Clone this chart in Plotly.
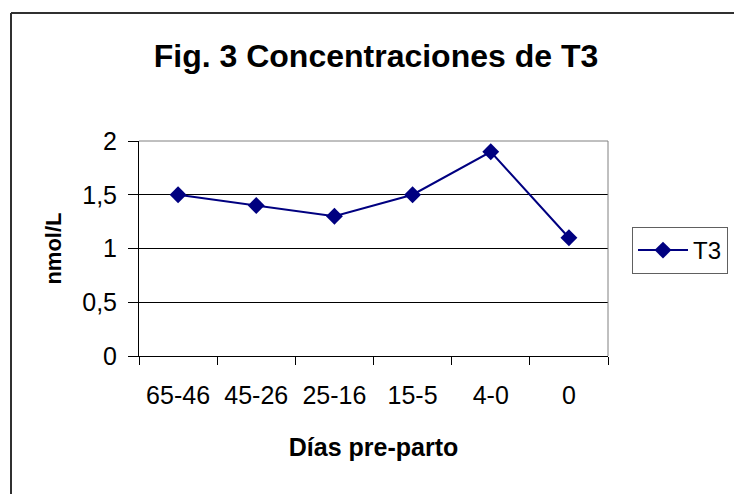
import plotly.graph_objects as go

categories = ["65-46", "45-26", "25-16", "15-5", "4-0", "0"]
t3_values = [1.5, 1.4, 1.3, 1.5, 1.9, 1.1]
y_ticks = [0, 0.5, 1, 1.5, 2]
y_tick_labels = ["0", "0,5", "1", "1,5", "2"]

OFF = 8  # default page body margin
W, H = 742 - OFF, 494 - OFF
ML, MR, MT, MB = 139 - OFF, 742 - 608, 141 - OFF, 494 - 356
PW, PH = W - ML - MR, H - MT - MB

def px_x(px):
    return (px - OFF - ML) / PW

def px_y(py):
    return (H - MB - (py - OFF)) / PH

FONT = "Liberation Sans, Arial, sans-serif"
NAVY = "#000080"

fig = go.Figure()
fig.add_trace(go.Scatter(
    x=categories, y=t3_values, name="T3", mode="lines+markers",
    line=dict(color=NAVY, width=2),
    marker=dict(symbol="diamond", size=13, color=NAVY),
))

fig.update_layout(
    width=W, height=H,
    margin=dict(l=ML, r=MR, t=MT, b=MB, autoexpand=False),
    paper_bgcolor="white", plot_bgcolor="white",
    font=dict(family=FONT, size=24, color="black"),
    title=dict(text="<b>Fig. 3 Concentraciones de T3</b>",
               x=((155 + 597) / 2 - OFF) / W,
               xanchor="center", y=1 - (56 - OFF) / H, yanchor="middle",
               font=dict(size=32, family=FONT)),
    showlegend=True,
    legend=dict(x=px_x(632), y=px_y(227), xanchor="left", yanchor="top",
                bordercolor="#606060", borderwidth=1, bgcolor="white",
                font=dict(size=24, family=FONT), itemwidth=50,
                tracegroupgap=0),
    xaxis=dict(
        type="category", range=[-0.5, 5.5], tickson="boundaries",
        ticks="outside", ticklen=8, tickcolor="black", tickwidth=1,
        showline=True, linecolor="black", linewidth=1, showgrid=False,
        tickfont=dict(size=25), fixedrange=True, ticklabelstandoff=17,
        title=dict(text="<b>Días pre-parto</b>", font=dict(size=25), standoff=30),
    ),
    yaxis=dict(
        range=[0, 2], tickvals=y_ticks, ticktext=y_tick_labels,
        ticks="outside", ticklen=10, tickcolor="black", tickwidth=1,
        showline=True, linecolor="black", linewidth=1,
        showgrid=True, gridcolor="black", gridwidth=1, zeroline=False,
        tickfont=dict(size=25), ticklabelstandoff=6,
        title=dict(text="<b>nmol/L</b>", font=dict(size=22), standoff=14),
    ),
    shapes=[
        dict(type="line", xref="paper", yref="paper", x0=0, x1=1, y0=1, y1=1,
             line=dict(color="#808080", width=1), layer="above"),
        dict(type="line", xref="paper", yref="paper", x0=1, x1=1, y0=0, y1=1,
             line=dict(color="#808080", width=1), layer="above"),
        dict(type="line", xref="paper", yref="paper", x0=px_x(11), x1=px_x(760),
             y0=px_y(13), y1=px_y(13), line=dict(color="#303030", width=2)),
        dict(type="line", xref="paper", yref="paper", x0=px_x(11), x1=px_x(11),
             y0=px_y(13), y1=px_y(520), line=dict(color="#303030", width=2)),
    ],
)

fig.write_html("out.html")
